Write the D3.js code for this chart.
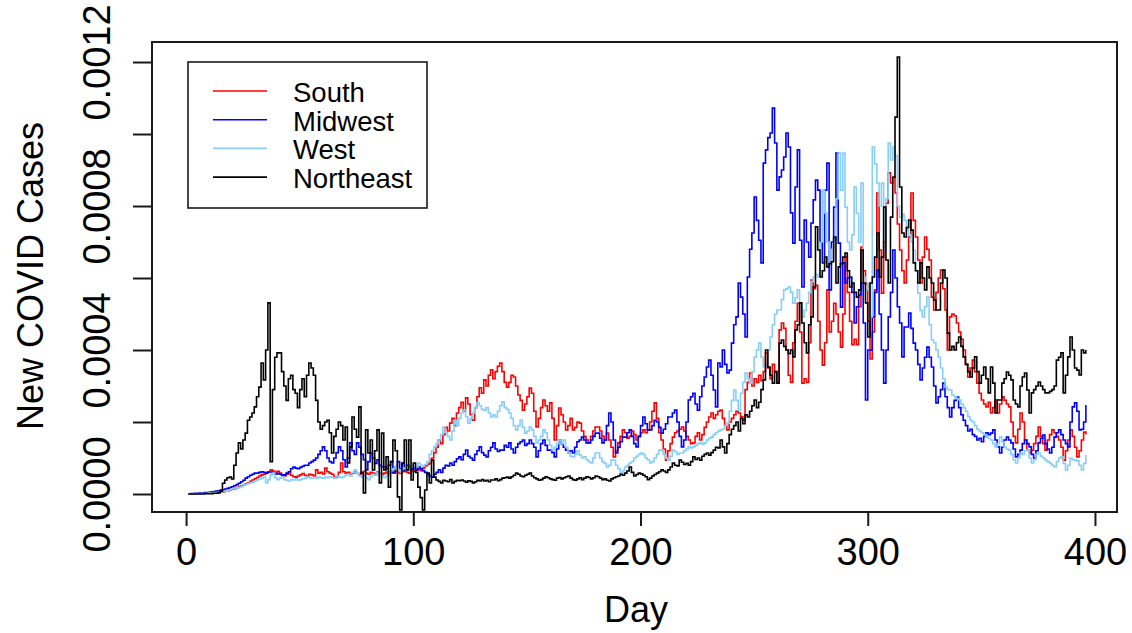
<!DOCTYPE html>
<html>
<head>
<meta charset="utf-8">
<script src="https://cdn.jsdelivr.net/npm/d3@7"></script>
<style>
  body { margin: 0; background: #fff; }
  text { font-family: "Liberation Sans", Arial, Helvetica, sans-serif; fill: #000; }
</style>
</head>
<body>
<svg id="chart" width="1132" height="633"></svg>
<script>
// New COVID cases per capita by day, stored in millionths (x 1e-6)
const south = [
  0,0,1,1,1,2,2,2,3,3,
  3,4,4,5,5,6,8,9,11,13,
  15,17,20,22,25,28,31,35,39,42,
  46,50,53,55,58,62,67,64,60,63,
  58,53,50,55,58,52,48,47,50,53,
  57,52,49,55,53,50,67,58,60,56,
  72,62,58,55,48,47,60,86,62,58,
  60,55,58,62,57,54,60,63,58,55,
  60,58,56,62,59,55,58,61,57,60,
  58,63,60,57,62,65,60,58,67,63,
  66,70,65,72,78,82,86,100,115,130,
  150,140,165,185,175,197,210,190,225,240,
  255,230,267,250,220,205,240,270,295,280,
  317,300,330,345,320,340,355,364,340,310,
  297,310,330,325,300,275,260,233,250,270,
  294,280,230,186,210,240,261,245,230,253,
  210,150,190,239,220,200,178,190,210,178,
  185,200,197,175,160,150,142,160,175,186,
  186,175,160,150,169,150,130,103,120,142,
  160,178,170,155,160,175,165,150,160,170,
  178,170,178,200,230,253,210,170,150,125,
  94,120,140,158,170,175,180,186,175,160,
  150,140,142,160,170,150,165,185,200,214,
  225,210,220,230,233,210,190,178,200,210,
  220,230,225,215,205,290,310,336,300,320,
  310,330,315,340,392,350,320,360,340,310,
  456,475,460,400,330,310,420,480,530,450,
  308,320,310,420,594,570,580,480,400,358,
  420,567,450,480,530,500,450,408,500,658,
  560,480,415,430,415,520,686,620,583,480,
  375,450,567,836,678,558,700,808,892,864,
  880,836,750,678,620,586,650,714,836,760,
  714,650,586,658,714,680,650,547,511,560,
  600,622,570,511,400,492,500,495,475,450,
  430,400,360,325,350,372,340,308,280,261,
  250,242,255,225,240,261,225,250,270,260,
  250,242,200,160,142,180,225,200,150,122,
  115,122,140,160,186,160,140,122,150,165,
  178,170,160,150,130,94,120,150,178,160,
  130,103,120,150,172,165
];

const midwest = [
  0,1,1,2,2,3,3,4,4,5,
  6,7,8,9,11,12,14,16,18,20,
  23,26,30,34,38,44,48,52,55,58,
  58,60,62,60,58,61,61,58,55,57,
  55,53,53,58,62,70,75,72,70,74,
  77,80,80,86,90,94,100,110,120,131,
  120,100,90,86,100,115,131,120,95,75,
  100,142,120,110,142,130,110,95,67,90,
  114,100,85,95,80,75,75,70,80,90,
  60,75,90,70,85,65,80,75,70,72,
  67,75,70,65,60,55,50,47,55,60,
  67,60,72,80,78,86,80,90,98,103,
  95,110,122,105,100,94,110,120,131,115,
  108,103,120,130,142,125,118,122,122,135,
  130,142,125,114,130,140,145,150,135,140,
  150,140,130,103,120,140,150,135,122,122,
  115,103,125,150,140,130,122,115,120,114,
  130,145,150,158,150,142,142,150,160,169,
  169,155,142,150,190,225,200,150,114,130,
  145,158,158,170,178,160,140,131,160,190,
  214,195,178,178,190,205,200,185,169,180,
  195,214,214,225,233,200,160,131,150,200,
  261,270,280,250,233,270,300,325,353,372,
  330,289,242,364,353,400,360,336,344,419,
  470,492,586,547,500,436,603,680,725,825,
  760,705,642,919,956,990,1003,1072,975,844,
  881,900,936,1003,964,781,697,853,956,705,
  575,761,700,658,753,817,872,844,700,642,
  844,919,567,700,797,947,697,519,642,586,
  600,603,560,475,520,553,586,475,261,400,
  400,492,560,622,500,400,308,400,492,560,
  678,600,520,475,381,464,464,503,460,419,
  400,360,317,350,380,408,380,353,300,253,
  270,290,308,270,240,214,240,260,269,240,
  220,205,190,175,180,165,160,150,155,145,
  160,170,165,169,178,150,131,114,130,150,
  158,150,142,125,103,110,122,140,150,140,
  131,110,100,120,142,155,164,140,125,114,
  130,158,170,178,165,150,140,131,200,242,
  253,230,178,180,200,247
];

const west = [
  0,0,1,1,1,1,2,2,2,3,
  3,4,4,5,6,7,8,10,12,14,
  16,17,18,20,25,27,29,31,33,36,
  39,42,44,47,31,40,53,58,45,40,
  44,47,40,38,36,40,39,42,38,40,
  42,44,47,45,43,46,44,47,45,44,
  47,45,48,46,44,50,47,45,48,52,
  55,50,60,67,58,50,47,52,45,40,
  48,55,52,60,58,50,45,52,60,65,
  70,75,68,62,72,70,66,75,80,76,
  75,86,80,78,82,90,110,120,131,140,
  150,165,186,170,160,150,175,205,190,210,
  225,233,215,197,210,225,240,253,245,235,
  233,240,225,214,220,214,230,245,256,240,
  235,225,210,190,178,190,205,185,169,175,
  186,178,160,142,150,160,178,170,150,135,
  122,130,140,150,140,150,130,115,105,103,
  110,120,108,100,103,95,90,86,100,114,
  114,100,90,85,75,80,94,94,80,70,
  58,65,75,80,86,90,100,105,110,114,
  110,100,95,86,90,100,110,122,122,110,
  100,94,105,122,118,110,114,114,120,125,
  131,128,131,135,140,142,138,142,150,155,
  158,165,170,175,178,180,190,197,230,260,
  289,260,233,280,310,336,320,308,340,380,
  400,419,380,353,360,400,436,470,500,511,
  511,540,567,570,575,560,530,545,567,520,
  492,510,530,560,590,603,610,603,700,844,
  781,700,642,680,705,820,947,844,947,797,
  700,678,720,853,780,700,864,603,567,586,
  492,964,917,864,800,864,678,820,975,928,
  964,940,800,769,778,760,733,720,700,678,
  620,558,510,492,520,547,470,428,420,400,
  380,350,320,297,290,289,275,270,265,261,
  250,240,230,215,205,200,190,180,175,170,
  165,160,155,150,140,131,140,158,145,130,
  125,122,110,95,86,100,114,110,120,122,
  100,86,95,110,114,105,100,94,90,85,
  80,75,90,100,103,85,67,80,100,95,
  94,92,80,67,85,108
];

const northeast = [
  0,0,0,0,0,0,0,1,1,1,
  1,2,2,3,8,30,39,45,47,42,
  80,114,142,125,150,169,205,214,225,242,
  270,297,364,317,400,531,90,290,380,392,
  392,340,300,260,320,330,290,280,240,290,
  320,270,330,364,350,330,260,200,180,190,
  200,205,170,114,160,180,200,190,150,186,
  86,131,214,180,158,242,58,3,178,114,
  150,67,120,178,31,169,67,103,19,90,
  150,120,-8,-44,86,150,67,150,39,86,
  60,19,-10,-44,11,58,31,94,47,39,
  35,31,38,36,34,40,31,35,38,37,
  39,36,33,37,35,31,34,38,36,40,
  36,38,34,39,39,42,37,40,44,45,
  47,44,48,52,58,55,50,48,52,55,
  58,50,45,42,38,40,44,48,45,42,
  40,38,44,46,42,45,48,50,44,40,
  38,42,45,40,44,48,46,42,45,50,
  48,44,40,42,38,36,42,45,48,50,
  55,52,58,64,75,60,50,54,58,56,
  52,48,40,44,50,54,58,62,67,64,
  60,67,75,86,80,78,94,88,82,85,
  80,90,103,96,100,94,105,110,114,108,
  115,122,130,128,150,131,114,140,165,180,
  190,200,175,210,195,220,214,230,245,261,
  240,255,290,317,400,353,330,308,340,308,
  419,428,410,400,390,400,381,456,470,531,
  475,420,392,470,492,575,742,678,603,620,
  658,631,640,645,714,586,631,640,658,669,
  620,575,586,560,547,567,678,586,531,436,
  586,603,658,725,603,658,797,650,586,769,
  880,1047,1214,853,725,714,740,761,733,642,
  620,586,642,600,567,631,600,586,539,511,
  511,586,622,600,447,400,410,400,420,436,
  410,381,360,340,325,350,381,340,308,330,
  353,320,281,353,308,225,261,261,308,320,
  339,330,317,261,250,242,300,325,336,289,
  225,281,290,300,311,300,290,281,281,285,
  290,300,372,380,392,281,330,381,436,400,
  350,344,331,400,392,400
];

const seriesNames = ["South", "Midwest", "West", "Northeast"];
const seriesColors = ["#ff0000", "#0000ff", "#87cefa", "#000000"];
const xTicks = [0, 100, 200, 300, 400];
const yTicks = [0, 0.0002, 0.0004, 0.0006, 0.0008, 0.001, 0.0012];
const yTickLabels = ["0.0000", "", "0.0004", "", "0.0008", "", "0.0012"];

const allSeries = [south, midwest, west, northeast].map((vals, i) => ({
  name: seriesNames[i],
  color: seriesColors[i],
  values: vals.map((v, j) => ({ day: j + 1, cases: v * 1e-6 }))
}));

// plot box (R base graphics layout)
var box = { left: 152, top: 42, right: 1117, bottom: 512 };

var svg = d3.select("#chart");

var x = d3.scaleLinear()
  .domain([-15, 409.7])
  .range([box.left, box.right]);

var y = d3.scaleLinear()
  .domain([-0.00005, 0.0012556])
  .range([box.bottom, box.top]);

// clip lines to the plot region
svg.append("defs").append("clipPath")
  .attr("id", "plotClip")
  .append("rect")
  .attr("x", box.left).attr("y", box.top)
  .attr("width", box.right - box.left)
  .attr("height", box.bottom - box.top);

// Draw the series as step lines (R type = "s")
var line = d3.line()
  .curve(d3.curveStepAfter)
  .x(d => x(d.day))
  .y(d => y(d.cases));

svg.append("g")
  .attr("clip-path", "url(#plotClip)")
  .selectAll("path")
  .data(allSeries)
  .enter()
  .append("path")
  .attr("fill", "none")
  .attr("stroke", d => d.color)
  .attr("stroke-width", 1.6)
  .attr("d", d => line(d.values));

// Plot frame
svg.append("rect")
  .attr("x", box.left).attr("y", box.top)
  .attr("width", box.right - box.left)
  .attr("height", box.bottom - box.top)
  .attr("fill", "none")
  .attr("stroke", "#1a1a1a")
  .attr("stroke-width", 2);

// X axis
var xAxis = svg.append("g")
  .attr("transform", "translate(0," + box.bottom + ")")
  .call(d3.axisBottom(x).tickValues(xTicks).tickSize(14).tickPadding(12).tickFormat(d3.format("d")));
xAxis.select(".domain").remove();
xAxis.selectAll("line").attr("stroke", "#1a1a1a").attr("stroke-width", 2);
xAxis.selectAll("text")
  .attr("font-size", 38)
  .style("font-family", "'Liberation Sans', Arial, sans-serif");

// Y axis (labels rotated like R's default las = 0)
var yAxis = svg.append("g")
  .attr("transform", "translate(" + box.left + ",0)")
  .call(d3.axisLeft(y).tickValues(yTicks).tickSize(19).tickFormat((d, i) => yTickLabels[i]));
yAxis.select(".domain").remove();
yAxis.selectAll("line").attr("stroke", "#1a1a1a").attr("stroke-width", 2);
yAxis.selectAll("text")
  .attr("transform", "rotate(-90)")
  .attr("x", 0)
  .attr("y", -42)
  .attr("dy", 0)
  .attr("text-anchor", "middle")
  .attr("font-size", 38)
  .style("font-family", "'Liberation Sans', Arial, sans-serif");

// Axis titles
svg.append("text")
  .attr("x", 636)
  .attr("y", 622)
  .attr("text-anchor", "middle")
  .attr("font-size", 36)
  .text("Day");

svg.append("text")
  .attr("transform", "translate(43,276) rotate(-90)")
  .attr("text-anchor", "middle")
  .attr("font-size", 36)
  .text("New COVID Cases");

// Legend
var legend = svg.append("g");
legend.append("rect")
  .attr("x", 188).attr("y", 62)
  .attr("width", 239).attr("height", 146)
  .attr("fill", "#fff")
  .attr("stroke", "#1a1a1a")
  .attr("stroke-width", 1.6);

var items = legend.selectAll("g.item")
  .data(allSeries)
  .enter()
  .append("g")
  .attr("class", "item")
  .attr("transform", (d, i) => "translate(0," + (91 + i * 28.7) + ")");

items.append("line")
  .attr("x1", 213).attr("x2", 267)
  .attr("y1", 0).attr("y2", 0)
  .attr("stroke", d => d.color)
  .attr("stroke-width", 1.6);

items.append("text")
  .attr("x", 293)
  .attr("y", 11)
  .attr("font-size", 27.5)
  .text(d => d.name);
</script>
</body>
</html>
